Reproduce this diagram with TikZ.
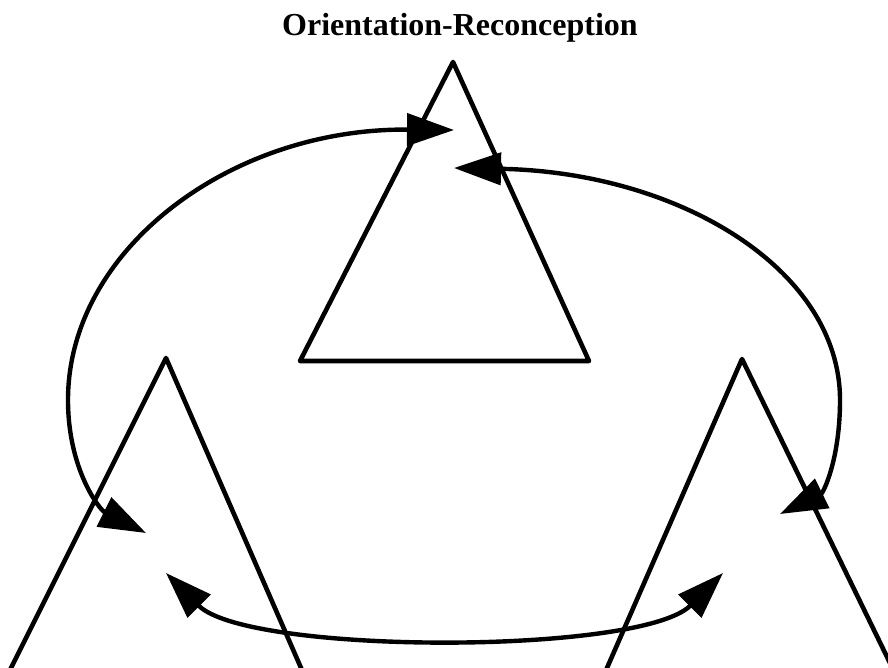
\documentclass[tikz,border=0pt]{standalone}
\usepackage{fontspec}
\setmainfont{Liberation Serif}
\usetikzlibrary{arrows.meta}
\begin{document}
\begin{tikzpicture}[x=1pt,y=-1pt,
  edge/.style={line width=4.6pt, line join=round},
  link/.style={line width=4.4pt, {Triangle[length=47pt,width=32pt]}-{Triangle[length=47pt,width=32pt]}},
  title/.style={font=\bfseries\fontsize{32}{38}\selectfont, anchor=base west, inner sep=0pt}]
\useasboundingbox (0,0) rectangle (888,668);
\clip (0,0) rectangle (888,668);
\node[title] (t) at (282,36) {Orientation-Reconception};
% top triangle
\coordinate (TA) at (453,62);
\coordinate (TL) at (300,361);
\coordinate (TR) at (589,361);
\draw[edge] (TA) -- (TL) -- (TR) -- cycle;
% left triangle
\coordinate (LA) at (166,358);
\coordinate (LL) at (-5,700);
\coordinate (LR) at (315,700);
\draw[edge] (LL) -- (LA) -- (LR);
% right triangle
\coordinate (RA) at (742,359);
\coordinate (RL) at (593,700);
\coordinate (RR) at (908,700);
\draw[edge] (RL) -- (RA) -- (RR);
% connectors
\coordinate (a1) at (146,533);
\coordinate (a2) at (454,130);
\draw[link] (a1) .. controls (100,510) and (68,470) .. (68,400) .. controls (68,250) and (230,128) .. (a2);
\coordinate (b1) at (780,514);
\coordinate (b2) at (454,168);
\draw[link] (b1) .. controls (823,493) and (840,460) .. (840,400) .. controls (840,270) and (680,172) .. (b2);
\coordinate (c1) at (166,573);
\coordinate (c2) at (723,573);
\draw[link] (c1) .. controls (248,655) and (641,655) .. (c2);
\end{tikzpicture}
\end{document}
